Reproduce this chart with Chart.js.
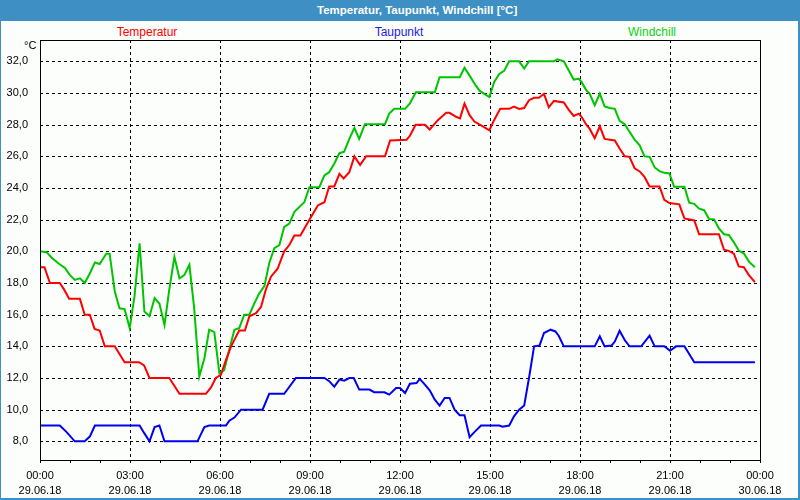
<!DOCTYPE html>
<html>
<head>
<meta charset="utf-8">
<script src="https://cdn.jsdelivr.net/npm/chart.js@4/dist/chart.umd.min.js"></script>
<style>
  html, body { margin: 0; padding: 0; background: #fcfefc; }
  #wrap { position: relative; width: 800px; height: 500px; background: #fcfefc; overflow: hidden; font-family: 'Liberation Sans', Arial, sans-serif; }
  #titlebar { position: absolute; left: 0; top: 0; width: 800px; height: 21px; background: #3d8fc4; }
  #titletext { position: absolute; left: 317px; top: 0; width: 200px; height: 21px; line-height: 21px; text-align: center; color: #fff; font-weight: bold; font-size: 11.5px; white-space: nowrap; }
  .bl { position: absolute; background: #3d8fc4; }
  .leg { position: absolute; top: 25px; font-size: 12px; line-height: 14px; white-space: nowrap; transform: translateX(-50%); }
  #unit { position: absolute; left: 24px; top: 39px; font-size: 11px; color: #000; }
  canvas { position: absolute; left: 0; top: 0; }
</style>
</head>
<body>
<div id="wrap">
  <div id="titlebar"></div>
  <div id="titletext">Temperatur, Taupunkt, Windchill [°C]</div>
  <div class="bl" style="left:0;top:0;width:1px;height:500px"></div>
  <div class="bl" style="right:0;top:0;width:2px;height:500px"></div>
  <div class="bl" style="left:0;bottom:0;width:800px;height:2px"></div>
  <div class="leg" style="left:147px;color:#ff0000">Temperatur</div>
  <div class="leg" style="left:399px;color:#1c1ce8">Taupunkt</div>
  <div class="leg" style="left:652px;color:#10d010">Windchill</div>
  <div id="unit">°C</div>
  <canvas id="c" width="800" height="500"></canvas>
</div>
<script>
// ---- data (hours since 29.06.18 00:00, °C) ----
const tempHours = [0,0.15,0.33,0.66,0.8,0.97,1.33,1.49,1.66,1.82,1.99,2.16,2.49,2.82,3.3,3.47,3.65,4.31,4.65,5.53,5.7,5.86,6.03,6.2,6.37,6.53,6.64,6.83,6.98,7.2,7.37,7.53,7.7,7.92,8.14,8.31,8.48,8.68,8.98,9.26,9.48,9.64,9.81,9.98,10.12,10.31,10.48,10.67,10.87,11.5,11.67,12.22,12.33,12.52,12.83,12.99,13.27,13.54,13.65,13.87,14.0,14.15,14.32,14.48,14.76,14.98,15.14,15.34,15.64,15.8,15.97,16.14,16.3,16.47,16.63,16.8,16.96,17.13,17.46,17.62,17.79,17.96,18.05,18.21,18.32,18.49,18.66,18.82,19.16,19.32,19.49,19.65,19.82,19.99,20.15,20.32,20.65,20.81,20.98,21.31,21.48,21.81,21.97,22.63,22.8,22.96,23.13,23.29,23.46,23.63,23.83];
const tempValues = [19,19,18,18,17.6,17,17,16,16,15.1,15,14,14,13,13,12.8,12,12,11,11,11.4,12,12.2,13.15,14,14.6,15,15,15.9,16.1,16.5,17.6,18.4,18.9,20,20.4,21,21,22,22.9,23.1,24.1,24.1,24.9,24.6,25,26,25.45,26,26,27,27.05,27.3,28,28,27.7,28.3,28.75,28.75,28.5,28.4,29.33,28.6,28.2,27.9,27.65,28.3,29,29,29.15,29,29.05,29.55,29.7,29.7,29.95,29.1,29.5,29.4,28.95,28.55,28.7,28.5,28,27.75,27.15,27.9,27.1,27,26.5,26,25.97,25.25,25.05,24.7,24.1,24.1,23.25,23.05,22.97,22.08,21.95,21.08,21.08,20.1,20.03,19.85,19.05,19,18.5,18.05];

const dewHours = [0,0.66,0.88,1.16,1.49,1.66,1.83,3.32,3.48,3.65,3.82,3.98,4.15,5.25,5.48,5.64,6.2,6.31,6.48,6.7,7.42,7.64,8.14,8.53,9.48,9.64,9.81,9.98,10.14,10.31,10.46,10.64,10.98,11.14,11.48,11.64,11.87,12.0,12.17,12.33,12.55,12.66,12.83,12.99,13.16,13.32,13.49,13.65,13.82,13.99,14.15,14.32,14.48,14.7,15.31,15.42,15.64,15.8,15.97,16.14,16.3,16.47,16.65,16.8,17.02,17.18,17.29,17.46,18.49,18.66,18.82,19.05,19.16,19.32,19.49,19.65,20.04,20.32,20.49,20.81,21.0,21.2,21.48,21.81,23.83];
const dewValues = [9,9,8.6,8,8,8.3,9,9,8.5,8,8.9,9,8,8,8.9,9,9,9.3,9.5,10,10,11,11,12,12,11.8,11.45,11.9,11.83,12,12,11.27,11.27,11.1,11.1,10.95,11.37,11.37,11.05,11.64,11.68,11.94,11.58,11.22,10.63,10.26,10.74,10.74,10,9.65,9.65,8.26,8.58,9,9,8.92,9,9.58,10,10.26,12,14,14.05,14.84,15.05,14.94,14.67,14,14,14.63,14,14.05,14.3,14.98,14.4,14,14,14.67,14,14,13.72,14,14,13,13];

const chillHours = [0,0.22,0.39,0.61,0.83,1.0,1.16,1.33,1.49,1.66,1.83,1.99,2.21,2.32,2.49,2.65,2.82,2.99,3.15,3.32,3.48,3.65,3.82,3.98,4.15,4.31,4.48,4.65,4.81,4.98,5.14,5.31,5.48,5.64,5.81,5.98,6.14,6.31,6.48,6.64,6.81,6.98,7.14,7.31,7.48,7.64,7.81,7.98,8.14,8.31,8.48,8.81,8.98,9.31,9.48,9.64,9.81,9.98,10.14,10.31,10.48,10.64,10.83,11.5,11.64,11.81,12.17,12.33,12.53,13.16,13.32,13.99,14.15,14.32,14.48,14.65,14.81,14.98,15.14,15.31,15.47,15.64,15.97,16.14,16.3,17.13,17.24,17.46,17.79,17.96,18.05,18.21,18.32,18.49,18.66,18.82,18.99,19.16,19.32,19.49,19.65,19.82,19.99,20.15,20.32,20.49,20.65,20.81,20.98,21.14,21.48,21.64,21.81,21.97,22.14,22.3,22.47,22.63,22.8,22.96,23.13,23.29,23.46,23.63,23.83];
const chillValues = [20,19.95,19.6,19.25,18.95,18.5,18.2,18.3,18,18.6,19.3,19.2,19.85,19.85,17.5,16.4,16.35,15.15,17.15,20.5,16.2,15.9,17.05,16.7,15.35,17.6,19.65,18.3,18.5,19.15,16.4,12.1,13.25,15.05,14.9,12.3,12.5,13.8,15.05,15.15,16,16,16.7,17.35,17.8,19.25,20.2,20.4,21.55,21.75,22.5,23.1,24.05,24.05,24.8,25,25.55,26.2,26.3,27.1,27.8,27.1,28.03,28.03,28.7,29,29,29.35,30.05,30.05,31,31,31.6,31.1,30.6,30.15,29.95,29.75,30.7,31.2,31.4,32,32,31.55,32,32,32.13,32,30.85,30.9,30.7,30.17,29.96,29.23,29.96,29.16,29.06,29,28.24,28.03,27.55,27.06,26.7,26,25.97,25.3,25.07,24.96,24.92,24.08,24.08,23.07,23,22.7,22.6,22.04,22.02,21.45,21.08,21.03,20.57,20.05,19.88,19.35,19];

const yTicks = [8,10,12,14,16,18,20,22,24,26,28,30,32];
const xGridHours = [3,6,9,12,15,18,21];
const xTimeLabels = ['00:00','03:00','06:00','09:00','12:00','15:00','18:00','21:00','00:00'];
const xDateLabels = ['29.06.18','29.06.18','29.06.18','29.06.18','29.06.18','29.06.18','29.06.18','29.06.18','30.06.18'];

const pts = (hs, vs) => hs.map((h, i) => ({x: h, y: vs[i]}));

const gridPlugin = {
  id: 'gridFrame',
  beforeDatasetsDraw(chart) {
    const {ctx, chartArea: {left, right, top, bottom}, scales: {x, y}} = chart;
    ctx.save();
    ctx.strokeStyle = '#000';
    ctx.lineWidth = 1;
    ctx.setLineDash([3, 3]);
    yTicks.forEach(v => {
      const py = Math.round(y.getPixelForValue(v)) + 0.5;
      ctx.beginPath(); ctx.moveTo(left, py); ctx.lineTo(right, py); ctx.stroke();
    });
    xGridHours.forEach(h => {
      const px = Math.round(x.getPixelForValue(h)) + 0.5;
      ctx.beginPath(); ctx.moveTo(px, top); ctx.lineTo(px, bottom); ctx.stroke();
    });
    ctx.restore();
  },
  afterDatasetsDraw(chart) {
    const {ctx, chartArea: {left, right, top, bottom}} = chart;
    ctx.save();
    ctx.strokeStyle = '#000';
    ctx.lineWidth = 1;
    ctx.setLineDash([]);
    ctx.strokeRect(Math.round(left) + 0.5, Math.round(top) + 0.5, Math.round(right - left), Math.round(bottom - top));
    ctx.restore();
  }
};

const tickFont = {family: "'Liberation Sans', Arial, sans-serif", size: 11};

new Chart(document.getElementById('c'), {
  type: 'line',
  data: {
    datasets: [
      {label: 'Temperatur', data: pts(tempHours, tempValues), borderColor: '#ff0000', borderWidth: 2, pointRadius: 0, tension: 0},
      {label: 'Taupunkt', data: pts(dewHours, dewValues), borderColor: '#0000f0', borderWidth: 2, pointRadius: 0, tension: 0},
      {label: 'Windchill', data: pts(chillHours, chillValues), borderColor: '#00c400', borderWidth: 2, pointRadius: 0, tension: 0}
    ]
  },
  options: {
    responsive: false,
    animation: false,
    devicePixelRatio: 1,
    layout: {padding: {left: 0, right: 40, top: 40, bottom: 0}},
    plugins: {legend: {display: false}, title: {display: false}, tooltip: {enabled: false}},
    scales: {
      x: {
        type: 'linear', min: 0, max: 24,
        afterFit: s => { s.height = 40; },
        afterBuildTicks: s => { s.ticks = Array.from({length: 25}, (_, i) => ({value: i})); },
        grid: {drawOnChartArea: false, drawTicks: true, tickLength: 3, tickColor: '#000', color: '#000'},
        border: {display: false},
        ticks: {
          autoSkip: false, maxRotation: 0, minRotation: 0, padding: 5, color: '#000',
          font: {...tickFont, lineHeight: 1.4},
          callback: v => (v % 3 === 0) ? [xTimeLabels[v / 3], xDateLabels[v / 3]] : ''
        }
      },
      y: {
        type: 'linear', min: 6.82, max: 33.35,
        afterFit: s => { s.width = 40; },
        afterBuildTicks: s => { s.ticks = yTicks.map(v => ({value: v})); },
        grid: {display: false},
        border: {display: false},
        ticks: {
          padding: 4, color: '#000', font: tickFont,
          callback: v => v.toFixed(1).replace('.', ',')
        }
      }
    }
  },
  plugins: [gridPlugin]
});
</script>
</body>
</html>
